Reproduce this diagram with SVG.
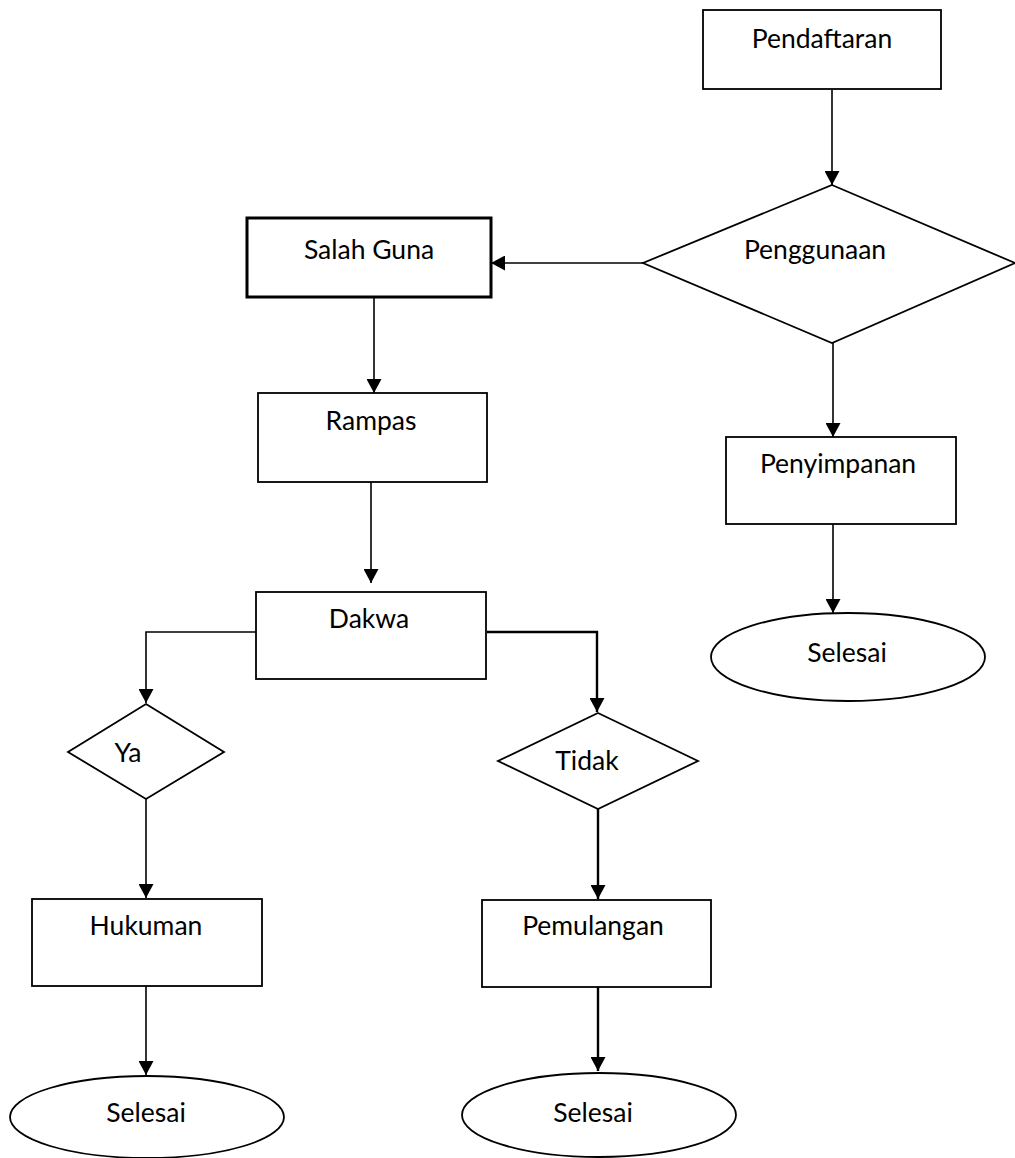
<svg xmlns="http://www.w3.org/2000/svg" width="1015" height="1158" viewBox="0 0 1015 1158">
<style>
.box{fill:#fff;stroke:#000;stroke-width:1.8}
.thick{stroke-width:3}
.conn{fill:none;stroke:#000;stroke-width:1.6}
.conn2{fill:none;stroke:#000;stroke-width:2.4}
text{font-family:Lato,"Liberation Sans",sans-serif;font-size:26.5px;fill:#000;text-anchor:middle}
</style>
<defs>
<marker id="ah" markerUnits="userSpaceOnUse" markerWidth="14" markerHeight="15" refX="14" refY="7.5" orient="auto" viewBox="0 0 14 15">
<path d="M0,0 L14,7.5 L0,15 z" fill="#000"/>
</marker>
</defs>
<rect width="1015" height="1158" fill="#fff"/>
<g id="connectors">
<path class="conn" d="M832,90 V185" marker-end="url(#ah)"/>
<path class="conn" d="M643,263 H491" marker-end="url(#ah)"/>
<path class="conn" d="M833,343 V437" marker-end="url(#ah)"/>
<path class="conn" d="M833,524 V613" marker-end="url(#ah)"/>
<path class="conn" d="M374,290 V393" marker-end="url(#ah)"/>
<path class="conn" d="M371,482 V583" marker-end="url(#ah)"/>
<path class="conn" d="M256,632 H146 V703" marker-end="url(#ah)"/>
<path class="conn2" d="M487,632 H597 V712" marker-end="url(#ah)"/>
<path class="conn" d="M146,799 V898" marker-end="url(#ah)"/>
<path class="conn" d="M146,986 V1075" marker-end="url(#ah)"/>
<path class="conn2" d="M598,809 V899" marker-end="url(#ah)"/>
<path class="conn2" d="M598,983 V1071" marker-end="url(#ah)"/>
</g>
<g id="pendaftaran">
<rect class="box" x="703" y="10" width="238" height="79"/>
<text x="822" y="48">Pendaftaran</text>
</g>
<g id="penggunaan">
<polygon class="box" points="832,185 1015,263 832,343 643,263"/>
<text x="815" y="259">Penggunaan</text>
</g>
<g id="salah-guna">
<rect class="box thick" x="247" y="218" width="244" height="79"/>
<text x="369" y="259">Salah Guna</text>
</g>
<g id="rampas">
<rect class="box" x="258" y="393" width="229" height="89"/>
<text x="371" y="430">Rampas</text>
</g>
<g id="dakwa">
<rect class="box" x="256" y="592" width="230" height="87"/>
<text x="369" y="628">Dakwa</text>
</g>
<g id="penyimpanan">
<rect class="box" x="726" y="437" width="230" height="87"/>
<text x="838" y="473">Penyimpanan</text>
</g>
<g id="selesai-1">
<ellipse class="box" cx="848" cy="657" rx="137" ry="44"/>
<text x="847" y="662">Selesai</text>
</g>
<g id="ya">
<polygon class="box" points="146,704 224,752 146,799 68,752"/>
<text x="128" y="762">Ya</text>
</g>
<g id="tidak">
<polygon class="box" points="598,713 698,761 598,809 498,761"/>
<text x="587" y="770">Tidak</text>
</g>
<g id="hukuman">
<rect class="box" x="32" y="899" width="230" height="87"/>
<text x="146" y="935">Hukuman</text>
</g>
<g id="pemulangan">
<rect class="box" x="482" y="900" width="229" height="87"/>
<text x="593" y="935">Pemulangan</text>
</g>
<g id="selesai-2">
<ellipse class="box" cx="147" cy="1117" rx="137" ry="41"/>
<text x="146" y="1122">Selesai</text>
</g>
<g id="selesai-3">
<ellipse class="box" cx="599" cy="1115" rx="137" ry="42"/>
<text x="593" y="1122">Selesai</text>
</g>
</svg>
